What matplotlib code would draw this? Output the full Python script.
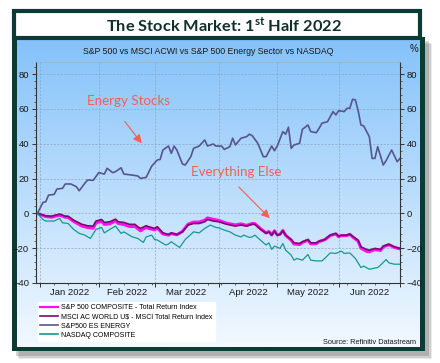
import numpy as np
import matplotlib
matplotlib.use('Agg')
import matplotlib.pyplot as plt
from matplotlib.patches import Rectangle
from matplotlib.ticker import MultipleLocator, FixedLocator
import matplotlib.transforms as mtransforms

plt.rcParams['font.family'] = ['Liberation Sans', 'DejaVu Sans']
plt.rcParams['mathtext.fontset'] = 'custom'
plt.rcParams['mathtext.bf'] = 'Lato:bold'
plt.rcParams['mathtext.rm'] = 'Lato'

start = '2021-12-31'

# S&P500 energy sector, % change since end of 2021
energy_dates = ['2021-12-31', '2022-01-04', '2022-01-05', '2022-01-06', '2022-01-10', '2022-01-11',
                '2022-01-13', '2022-01-14', '2022-01-18', '2022-01-20', '2022-01-21', '2022-01-25',
                '2022-01-26', '2022-01-28', '2022-02-01', '2022-02-03', '2022-02-04', '2022-02-08',
                '2022-02-09', '2022-02-11', '2022-02-14', '2022-02-17', '2022-02-21', '2022-02-22',
                '2022-02-24', '2022-02-28', '2022-03-02', '2022-03-03', '2022-03-04', '2022-03-08',
                '2022-03-09', '2022-03-10', '2022-03-11', '2022-03-15', '2022-03-16', '2022-03-18',
                '2022-03-21', '2022-03-23', '2022-03-25', '2022-03-28', '2022-03-30', '2022-03-31',
                '2022-04-04', '2022-04-05', '2022-04-07', '2022-04-08', '2022-04-11', '2022-04-13',
                '2022-04-15', '2022-04-18', '2022-04-19', '2022-04-21', '2022-04-25', '2022-04-26',
                '2022-04-28', '2022-04-29', '2022-05-02', '2022-05-04', '2022-05-05', '2022-05-06',
                '2022-05-09', '2022-05-10', '2022-05-12', '2022-05-13', '2022-05-17', '2022-05-18',
                '2022-05-20', '2022-05-23', '2022-05-24', '2022-05-26', '2022-05-30', '2022-05-31',
                '2022-06-01', '2022-06-03', '2022-06-06', '2022-06-07', '2022-06-08', '2022-06-09',
                '2022-06-10', '2022-06-13', '2022-06-14', '2022-06-16', '2022-06-17', '2022-06-20',
                '2022-06-21', '2022-06-23', '2022-06-24', '2022-06-28', '2022-06-30', '2022-07-01']
energy = [0, 6.3, 6.7, 10.5, 10.9, 14.0,
          14.4, 16.9, 16.9, 15.3, 13.0, 17.3,
          19.2, 19.0, 23.4, 22.6, 25.9, 23.4,
          24.0, 26.2, 22.6, 22.0, 21.5, 20.1,
          20.7, 27.2, 30.7, 31.0, 36.4, 38.7,
          34.5, 38.7, 36.4, 28.4, 27.8, 32.6,
          37.4, 38.7, 42.2, 38.7, 39.9, 38.7,
          38.7, 36.8, 38.3, 43.2, 39.3, 43.2,
          44.1, 45.5, 44.7, 40.3, 32.6, 32.6,
          38.7, 36.0, 38.7, 47.0, 45.5, 49.5,
          37.4, 39.3, 40.3, 48.3, 50.8, 47.0,
          46.4, 48.9, 51.8, 52.7, 58.5, 56.6,
          59.0, 58.5, 60.4, 60.4, 65.6, 65.2,
          59.0, 50.8, 50.2, 44.1, 31.6, 31.6,
          38.3, 27.8, 30.3, 36.4, 29.7, 31.6]

# S&P 500 and MSCI ACWI total return
broad_dates = ['2021-12-31', '2022-01-05', '2022-01-07', '2022-01-12', '2022-01-14', '2022-01-17',
               '2022-01-19', '2022-01-24', '2022-01-26', '2022-01-28', '2022-01-31', '2022-02-02',
               '2022-02-03', '2022-02-07', '2022-02-09', '2022-02-10', '2022-02-14', '2022-02-16',
               '2022-02-18', '2022-02-21', '2022-02-22', '2022-02-24', '2022-02-25', '2022-03-01',
               '2022-03-02', '2022-03-04', '2022-03-08', '2022-03-09', '2022-03-11', '2022-03-15',
               '2022-03-17', '2022-03-21', '2022-03-23', '2022-03-25', '2022-03-28', '2022-03-30',
               '2022-04-01', '2022-04-06', '2022-04-11', '2022-04-13', '2022-04-15', '2022-04-19',
               '2022-04-20', '2022-04-22', '2022-04-26', '2022-04-27', '2022-04-28', '2022-04-29',
               '2022-05-02', '2022-05-03', '2022-05-04', '2022-05-05', '2022-05-09', '2022-05-10',
               '2022-05-12', '2022-05-13', '2022-05-17', '2022-05-18', '2022-05-20', '2022-05-23',
               '2022-05-25', '2022-05-27', '2022-05-31', '2022-06-01', '2022-06-02', '2022-06-06',
               '2022-06-07', '2022-06-08', '2022-06-10', '2022-06-13', '2022-06-15', '2022-06-16',
               '2022-06-20', '2022-06-22', '2022-06-23', '2022-06-27', '2022-06-29', '2022-07-01']
msci = [0, -1.4, -1.6, -0.4, -1.6, -1.6,
        -3.9, -6.3, -7.1, -7.3, -4.4, -3.5,
        -5.2, -4.8, -3.3, -4.8, -5.2, -6.3,
        -6.3, -7.7, -8.6, -7.1, -7.7, -8.6,
        -7.7, -11.2, -12.1, -11.2, -12.1, -10.6,
        -6.7, -5.8, -5.8, -4.8, -3.5, -4.4,
        -4.8, -6.3, -7.3, -6.7, -7.3, -6.3,
        -6.3, -9.2, -11.5, -10.6, -12.5, -10.2,
        -12.5, -12.1, -10.0, -12.5, -15.0, -16.9,
        -17.3, -16.3, -15.0, -16.9, -16.9, -15.9,
        -15.0, -12.5, -11.5, -13.1, -12.5, -12.5,
        -11.9, -13.1, -15.4, -19.2, -20.7, -21.1,
        -20.1, -20.7, -18.8, -17.7, -19.2, -20.1]
spx = [0, -1.8, -2.2, -1.0, -2.2, -2.3,
       -4.6, -7.3, -8.1, -8.5, -5.4, -4.5,
       -6.3, -6.0, -4.3, -5.8, -6.4, -7.5,
       -7.5, -8.8, -10.0, -8.0, -8.7, -9.4,
       -8.4, -11.8, -12.5, -11.6, -12.3, -10.4,
       -6.2, -5.0, -5.0, -3.9, -2.6, -3.4,
       -4.0, -5.7, -6.6, -6.0, -6.9, -5.8,
       -5.9, -8.8, -11.2, -10.4, -12.4, -10.0,
       -12.4, -12.0, -9.8, -12.6, -15.4, -17.6,
       -17.9, -16.7, -15.4, -17.5, -17.4, -16.2,
       -15.2, -12.7, -11.8, -13.4, -12.8, -12.7,
       -12.0, -13.5, -16.0, -20.0, -21.8, -22.0,
       -20.8, -21.3, -19.2, -18.0, -19.6, -20.4]

# NASDAQ composite
nasdaq_dates = ['2021-12-31', '2022-01-04', '2022-01-05', '2022-01-10', '2022-01-12', '2022-01-13',
                '2022-01-17', '2022-01-19', '2022-01-21', '2022-01-25', '2022-01-27', '2022-01-31',
                '2022-02-02', '2022-02-03', '2022-02-07', '2022-02-09', '2022-02-11', '2022-02-14',
                '2022-02-17', '2022-02-21', '2022-02-23', '2022-02-24', '2022-02-28', '2022-03-01',
                '2022-03-02', '2022-03-07', '2022-03-08', '2022-03-09', '2022-03-14', '2022-03-16',
                '2022-03-18', '2022-03-21', '2022-03-23', '2022-03-25', '2022-03-28', '2022-03-29',
                '2022-03-31', '2022-04-01', '2022-04-05', '2022-04-07', '2022-04-11', '2022-04-13',
                '2022-04-14', '2022-04-18', '2022-04-19', '2022-04-20', '2022-04-22', '2022-04-26',
                '2022-04-27', '2022-04-28', '2022-04-29', '2022-05-03', '2022-05-04', '2022-05-05',
                '2022-05-09', '2022-05-10', '2022-05-11', '2022-05-13', '2022-05-17', '2022-05-18',
                '2022-05-20', '2022-05-24', '2022-05-25', '2022-05-27', '2022-05-31', '2022-06-02',
                '2022-06-03', '2022-06-07', '2022-06-09', '2022-06-13', '2022-06-14', '2022-06-16',
                '2022-06-21', '2022-06-22', '2022-06-24', '2022-06-27', '2022-06-29', '2022-07-01']
nasdaq = [0, -3.5, -4.4, -4.4, -2.9, -5.4,
          -5.8, -9.2, -11.5, -12.5, -14.4, -9.2,
          -8.1, -11.2, -9.2, -7.3, -11.5, -10.6,
          -13.5, -14.4, -16.7, -13.5, -12.5, -15.0,
          -15.3, -18.2, -17.6, -16.3, -19.6, -15.0,
          -12.1, -10.6, -11.2, -8.6, -7.7, -6.7,
          -8.1, -8.3, -9.6, -10.6, -12.5, -13.5,
          -12.5, -13.8, -13.5, -12.5, -15.4, -18.2,
          -16.9, -20.7, -18.8, -20.1, -17.3, -21.1,
          -24.0, -26.9, -25.9, -26.9, -23.6, -26.9,
          -27.3, -27.3, -25.9, -22.7, -23.0, -21.7,
          -23.0, -22.7, -25.9, -31.1, -30.3, -32.1,
          -31.1, -29.8, -26.5, -28.4, -29.2, -29.2]

month_starts = ['2022-01-03', '2022-02-01', '2022-03-01', '2022-04-01', '2022-05-02', '2022-06-01', '2022-07-01']
month_labels = ['Jan 2022', 'Feb 2022', 'Mar 2022', 'Apr 2022', 'May 2022', 'Jun 2022']

names = ['S&P 500 COMPOSITE - Total Return Index',
         'MSCI AC WORLD U$ - MSCI Total Return Index',
         'S&P500 ES ENERGY',
         'NASDAQ COMPOSITE']


def bpos(dates):
    # trading-day axis, like Datastream
    return np.busday_count(start, np.array(dates, dtype='datetime64[D]'))


frame = '#0b3b35'
red = '#f25f55'

fig = plt.figure(figsize=(4.4, 3.63), dpi=100)
fig.patch.set_facecolor('white')

# background decoration in pixel coords
bg = fig.add_axes([0, 0, 1, 1], zorder=0)
bg.axis('off')
for k, a in enumerate([0.12, 0.18, 0.25]):
    d = 5 - k * 1.5
    bg.add_patch(Rectangle((14 + d, 39 + d), 413, 315, fc='#555555', ec='none', alpha=a, zorder=1))
bg.add_patch(Rectangle((12, 37), 413, 314, fc=frame, ec='none', zorder=1.5))
top = np.array([133, 194, 250]) / 255
bottom = np.array([242, 249, 255]) / 255
t = np.linspace(0, 1, 200)[:, None, None]
grad = top * (1 - t) + bottom * t
grad = np.repeat(grad, 2, axis=1)
bg.imshow(grad, extent=[17, 420, 347, 40], aspect='auto', interpolation='bilinear', zorder=2)
bg.add_patch(Rectangle((14, 11), 406, 27, fc='white', ec=frame, lw=3, zorder=3))
bg.set_xlim(0, 440)
bg.set_ylim(363, 0)

bg.text(224.5, 25.5, r'The Stock Market: 1$^{\mathbf{st}}$ Half 2022', ha='center', va='center',
        fontsize=11.8, fontweight='bold', color='#10302c', family='Lato', zorder=4)
bg.text(208, 51.5, 'S&P 500 vs MSCI ACWI vs S&P 500 Energy Sector vs NASDAQ',
        ha='center', va='center', fontsize=6.3, color='#1a1a1a', zorder=4)
bg.text(414, 49, '%', ha='center', va='center', fontsize=7, color='#1a1a1a', zorder=4)
bg.text(416, 342, 'Source: Refinitiv Datastream', ha='right', va='center', fontsize=5.3,
        color='#1a1a1a', zorder=4)

# main chart
ax = fig.add_axes([36 / 440, 80 / 363, 364 / 440, 221 / 363], zorder=1)
ax.set_facecolor('none')

l1, = ax.plot(bpos(broad_dates), spx, color='#ff10f0', lw=2.2, solid_joinstyle='round')
l2, = ax.plot(bpos(broad_dates), msci, color='#7a0a6e', lw=1.2)
l3, = ax.plot(bpos(energy_dates), energy, color='#57558f', lw=1.2)
l4, = ax.plot(bpos(nasdaq_dates), nasdaq, color='#1a9690', lw=0.9)

ms = bpos(month_starts)
ax.set_xlim(-0.5, 130)
ax.set_ylim(-40, 87)
ax.xaxis.set_major_locator(FixedLocator(ms))
ax.xaxis.set_minor_locator(FixedLocator(np.arange(1, 130, 5)))
ax.set_xticklabels([])
ax.yaxis.set_major_locator(MultipleLocator(20))
ax.yaxis.set_minor_locator(MultipleLocator(4))
ax.tick_params(axis='both', which='major', labelsize=6.8, colors='#333333', labelcolor='#1a1a1a',
               direction='out', length=3, width=0.7, pad=1.5)
ax.tick_params(axis='both', which='minor', colors='#333333', direction='out', length=1.6, width=0.5)
ax.tick_params(axis='y', which='both', left=True, right=True, labelleft=True, labelright=True)
ax.tick_params(axis='y', which='major', pad=2)

ax.grid(True, which='major', color='#8aa2ba', lw=0.5, ls=(0, (3, 2)), alpha=0.9)
for s in ['left', 'right', 'bottom']:
    ax.spines[s].set_color('#333333')
    ax.spines[s].set_linewidth(0.8)
ax.spines['top'].set_color('#9ab4cc')
ax.spines['top'].set_linewidth(0.5)

trans = mtransforms.blended_transform_factory(ax.transData, ax.transAxes)
for i, lab in enumerate(month_labels):
    ax.text((ms[i] + ms[i + 1]) / 2, -0.043, lab, transform=trans, ha='center', va='center',
            fontsize=6.8, color='#1a1a1a')

ax.text(32.5, 64.6, 'Energy Stocks', ha='center', va='center', fontsize=9.6, color=red, family='Lato')
ax.annotate('', xy=(38, 39), xytext=(30.7, 54.1),
            arrowprops=dict(arrowstyle='-|>,head_length=0.5,head_width=0.25', color=red, lw=0.8))
ax.text(71.2, 23.8, 'Everything Else', ha='center', va='center', fontsize=9.6, color=red, family='Lato')
ax.annotate('', xy=(84, -3.9), xytext=(71.5, 16.3),
            arrowprops=dict(arrowstyle='-|>,head_length=0.5,head_width=0.25', color=red, lw=0.8))

leg = fig.legend([l1, l2, l3, l4], names, loc='upper left', bbox_to_anchor=(38 / 440, 1 - 302 / 363),
                 fontsize=5, frameon=True, fancybox=False, framealpha=1, edgecolor='white',
                 handlelength=2.6, handletextpad=0.35, labelspacing=0.3, borderpad=0.35,
                 borderaxespad=0)
for h in leg.get_lines():
    h.set_linewidth(1.2)
leg.get_lines()[0].set_linewidth(1.6)

fig.savefig('out.png', dpi=100)
